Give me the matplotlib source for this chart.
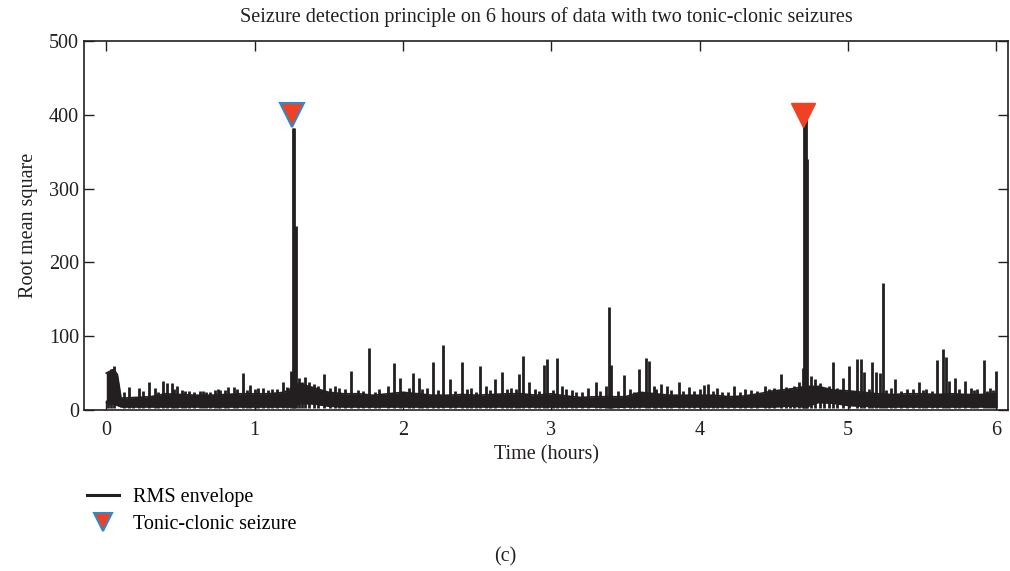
import matplotlib

matplotlib.use("Agg")
import matplotlib.pyplot as plt
from matplotlib.lines import Line2D

plt.rcParams["font.family"] = ["Liberation Serif", "DejaVu Serif"]
plt.rcParams["font.size"] = 14.5

INK = "#231f20"
RED = "#ef4123"
BLUE = "#2e8bcb"

# slowly varying band of the RMS envelope (hours, value)
band_t = [0.0, 0.02, 0.05, 0.075, 0.1, 0.2, 0.3, 0.4, 0.5, 0.6, 0.7, 0.8, 0.9, 1.0,
          1.1, 1.2, 1.27, 1.3, 1.4, 1.5, 1.6, 1.7, 1.8, 1.9, 2.0, 2.1, 2.2, 2.3,
          2.4, 2.5, 2.6, 2.7, 2.8, 2.9, 3.0, 3.1, 3.2, 3.3, 3.4, 3.5, 3.6, 3.7,
          3.8, 3.9, 4.0, 4.1, 4.2, 4.3, 4.4, 4.5, 4.6, 4.72, 4.8, 4.9, 5.0, 5.1,
          5.2, 5.3, 5.4, 5.5, 5.6, 5.7, 5.8, 5.9, 6.0]
band_high = [50, 52, 55, 48, 16, 17, 18, 22, 21, 20, 20, 21, 22, 22,
             22, 24, 32, 36, 30, 24, 22, 22, 20, 22, 24, 22, 20, 20,
             21, 20, 21, 22, 22, 20, 22, 19, 17, 18, 18, 18, 24, 22,
             20, 20, 20, 20, 18, 19, 22, 26, 28, 32, 32, 27, 26, 24,
             22, 21, 22, 22, 21, 22, 21, 21, 22]
band_low = [10, 8, 8, 6, 4, 4, 4, 4, 4, 4, 4, 4, 4, 4,
            4, 4, 4, 9, 8, 5, 4, 4, 4, 4, 4, 4, 4, 4,
            4, 4, 4, 4, 4, 4, 4, 4, 4, 4, 3, 4, 4, 4,
            4, 4, 4, 4, 4, 4, 4, 4, 5, 4, 10, 9, 6, 5,
            4, 4, 4, 4, 4, 4, 4, 4, 4]

# narrow bursts on top of the band (hours, value)
spike_t = [0.01, 0.03, 0.055, 0.15, 0.18, 0.22, 0.29, 0.33, 0.38, 0.41, 0.44,
           0.48, 0.53, 0.56, 0.63, 0.67, 0.73, 0.77, 0.82, 0.86, 0.92, 0.97,
           1.02, 1.06, 1.12, 1.19, 1.22, 1.245,
           1.258, 1.266, 1.276,
           1.30, 1.34, 1.37, 1.47, 1.51, 1.54, 1.65, 1.77, 1.84, 1.90, 1.94,
           1.98, 2.07, 2.11, 2.16, 2.20, 2.27, 2.32, 2.40, 2.46, 2.52, 2.56,
           2.62, 2.67, 2.73, 2.78, 2.81, 2.85, 2.89, 2.95, 2.97, 3.04, 3.07,
           3.10, 3.14, 3.25, 3.30, 3.33, 3.37,
           3.39, 3.40,
           3.49, 3.53, 3.59, 3.64, 3.66, 3.69, 3.74, 3.78, 3.86, 3.89, 3.93,
           4.03, 4.06, 4.12, 4.23, 4.31, 4.44, 4.50, 4.55, 4.61, 4.67, 4.695,
           4.705, 4.715, 4.725,
           4.75, 4.78, 4.84, 4.90, 4.97, 5.01, 5.06, 5.09, 5.11, 5.16, 5.19,
           5.22,
           5.235,
           5.29, 5.32, 5.40, 5.48, 5.53, 5.60, 5.64, 5.66, 5.68, 5.72, 5.79,
           5.83, 5.87, 5.92, 5.96, 6.0]
spike_v = [52, 55, 60, 31, 16, 30, 38, 30, 39, 37, 36,
           33, 26, 26, 26, 25, 27, 27, 31, 31, 50, 34,
           30, 30, 29, 38, 31, 53,
           382, 382, 250,
           43, 45, 38, 49, 30, 32, 53, 84, 28, 32, 64,
           44, 50, 44, 30, 65, 88, 42, 65, 30, 60, 32,
           42, 51, 30, 49, 73, 38, 28, 61, 69, 71, 32,
           28, 27, 30, 38, 26, 33,
           140, 61,
           47, 29, 55, 70, 67, 33, 35, 33, 38, 26, 31,
           34, 35, 30, 32, 28, 33, 30, 49, 30, 38, 57,
           395, 395, 340,
           46, 42, 30, 65, 44, 60, 69, 69, 51, 65, 51,
           50,
           172,
           30, 42, 28, 38, 28, 68, 83, 72, 39, 44, 39,
           30, 28, 68, 30, 53]

# small ragged peaks along the top of the band (hours, value)
ripple_t = [0.12, 0.25, 0.35, 0.46, 0.51, 0.59, 0.65, 0.70, 0.75, 0.80, 0.88,
            0.95, 1.00, 1.09, 1.15, 1.32, 1.40, 1.43, 1.57, 1.61, 1.70, 1.73,
            1.81, 2.04, 2.13, 2.24, 2.35, 2.43, 2.49, 2.59, 2.70, 2.76, 2.92,
            3.01, 3.17, 3.21, 3.45, 3.56, 3.71, 3.81, 3.96, 4.00, 4.09, 4.15,
            4.19, 4.27, 4.35, 4.39, 4.47, 4.58, 4.64, 4.81, 4.87, 4.93, 5.14,
            5.26, 5.36, 5.44, 5.51, 5.57, 5.75, 5.85, 5.94, 5.98]
ripple_v = [24, 26, 25, 28, 27, 24, 26, 25, 28, 27, 29,
            27, 28, 27, 29, 38, 35, 33, 30, 28, 27, 26,
            25, 30, 28, 27, 26, 28, 25, 27, 29, 28, 26,
            27, 24, 25, 26, 24, 28, 27, 26, 28, 26, 25,
            24, 25, 27, 26, 29, 31, 33, 36, 33, 30, 28,
            27, 26, 28, 27, 26, 28, 27, 26, 27]

seizure_t = [1.255, 4.70]
seizure_v = [400, 400]

title = "Seizure detection principle on 6 hours of data with two tonic-clonic seizures"


def main():
    fig = plt.figure(figsize=(10.1, 5.71), dpi=100)
    ax = fig.add_axes([0.0832, 0.282, 0.9148, 0.646])

    ax.fill_between(band_t, band_low, band_high, color=INK, linewidth=0)
    ax.plot(band_t, band_high, color=INK, linewidth=1.2)
    ax.plot(band_t, band_low, color=INK, linewidth=1.0)
    ax.vlines(ripple_t, 3, ripple_v, color=INK, linewidth=2.0)
    ax.vlines(spike_t, 3, spike_v, color=INK, linewidth=2.0)

    # first seizure marker has the blue outline, second one does not
    ax.plot(seizure_t[0], seizure_v[0], marker="v", ls="none", ms=17,
            mfc=RED, mec=BLUE, mew=1.5)
    ax.plot(seizure_t[1], seizure_v[1], marker="v", ls="none", ms=17,
            mfc=RED, mec=RED, mew=1.0)

    ax.set_xlim(-0.15, 6.08)
    ax.set_ylim(0, 500)
    ax.set_xticks(range(0, 7))
    ax.set_yticks(range(0, 501, 100))
    ax.tick_params(direction="in", length=7, width=1.0, top=True, right=True,
                   labelsize=14.5, colors=INK)
    ax.tick_params(axis="x", pad=8)
    for spine in ax.spines.values():
        spine.set_linewidth(1.2)
        spine.set_color(INK)

    fig.text(0.541, 0.970, title, ha="center", va="center", fontsize=14.5, color=INK)
    ax.set_xlabel("Time (hours)", color=INK, labelpad=4)
    ax.set_ylabel("Root mean square", color=INK, labelpad=8)

    env_handle = Line2D([], [], color=INK, linewidth=2.2)
    seiz_handle = Line2D([], [], marker="v", ls="none", ms=13,
                         mfc=RED, mec=BLUE, mew=1.5)
    fig.legend([env_handle, seiz_handle], ["RMS envelope", "Tonic-clonic seizure"],
               loc="upper left", bbox_to_anchor=(0.076, 0.163), frameon=False,
               borderpad=0, handlelength=1.6, handletextpad=0.7,
               labelspacing=0.4, fontsize=14.5)

    fig.text(0.5, 0.025, "(c)", ha="center", va="center", fontsize=14.5, color=INK)

    fig.savefig("out.png", dpi=100)


if __name__ == "__main__":
    main()
